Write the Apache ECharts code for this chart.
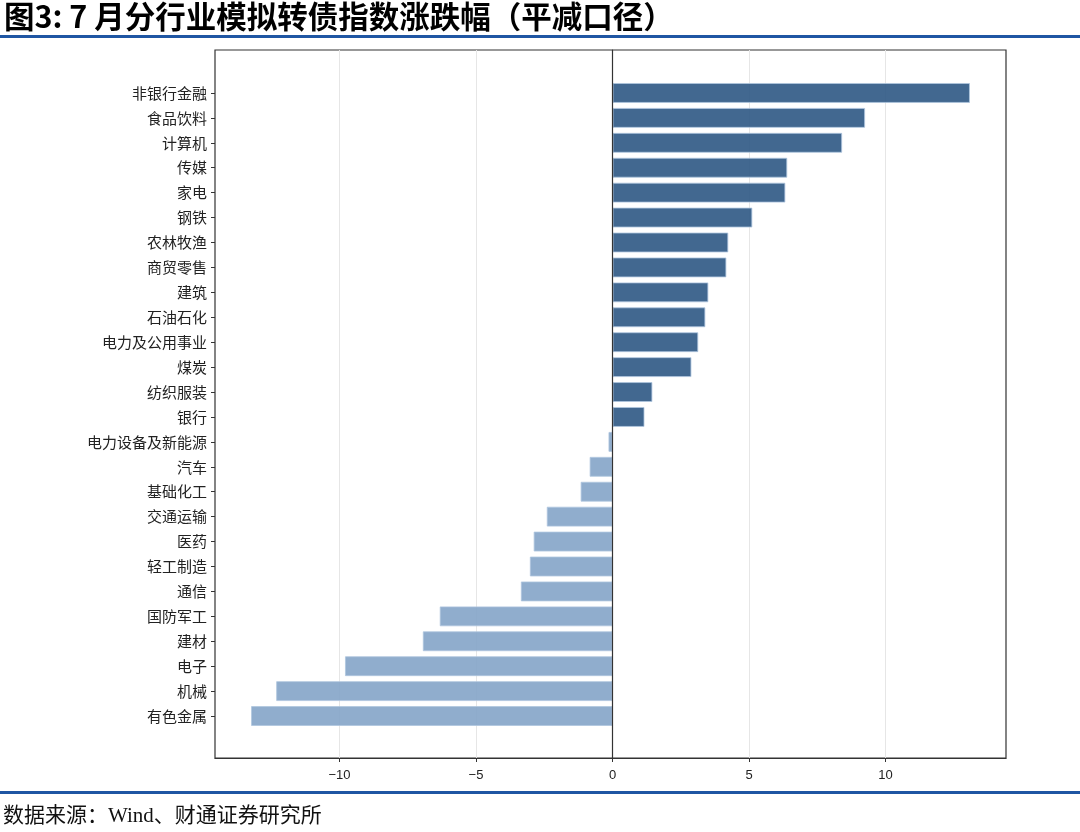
<!DOCTYPE html>
<html>
<head>
<meta charset="utf-8">
<script src="https://cdn.jsdelivr.net/npm/echarts@6/dist/echarts.min.js"></script>
<style>
html,body{margin:0;padding:0;background:#fff;}
#chart{width:1080px;height:832px;}
</style>
</head>
<body>
<div id="chart"></div>
<script>
var categories = ['非银行金融','食品饮料','计算机','传媒','家电','钢铁','农林牧渔','商贸零售','建筑','石油石化','电力及公用事业','煤炭','纺织服装','银行','电力设备及新能源','汽车','基础化工','交通运输','医药','轻工制造','通信','国防军工','建材','电子','机械','有色金属'];
var values = [13.09, 9.25, 8.41, 6.40, 6.33, 5.12, 4.24, 4.17, 3.51, 3.40, 3.14, 2.89, 1.46, 1.17, -0.15, -0.84, -1.17, -2.41, -2.89, -3.03, -3.36, -6.33, -6.95, -9.80, -12.32, -13.24];
var xTicks = [-10, -5, 0, 5, 10];
var titleText = '图3: 7 月分行业模拟转债指数涨跌幅（平减口径）';
var sourceText = '数据来源：Wind、财通证券研究所';

var xMin = -14.56, xMax = 14.41;
var posColor = 'rgba(45,88,132,0.9)';
var negColor = 'rgba(132,164,200,0.9)';

var chart = echarts.init(document.getElementById('chart'), null, {renderer: 'canvas'});
var option = {
  backgroundColor: '#fff',
  animation: false,
  graphic: [
    {type: 'text', left: 4, top: 1, style: {text: titleText, font: 'bold 30.5px "Noto Sans CJK SC", serif', fill: '#000'}},
    {type: 'rect', shape: {x: 0, y: 35, width: 1080, height: 3}, style: {fill: '#1f56a3'}},
    {type: 'rect', shape: {x: 0, y: 791, width: 1080, height: 3}, style: {fill: '#1f56a3'}},
    {type: 'text', left: 3, top: 806, style: {text: sourceText, font: '21px "Liberation Serif", "Noto Sans CJK SC", serif', fill: '#111'}}
  ],
  grid: [
    {left: 215, right: 74, top: 80.5, bottom: 103.5, containLabel: false},
    {left: 215, right: 74, top: 50, bottom: 74, show: true, borderColor: '#333', borderWidth: 1.2, backgroundColor: 'transparent'}
  ],
  xAxis: [
    {gridIndex: 0, type: 'value', min: xMin, max: xMax, show: false},
    {gridIndex: 1, type: 'value', min: xMin, max: xMax,
      axisLine: {show: true, onZero: false, lineStyle: {color: '#333', width: 1.2}},
      axisTick: {show: true, length: 4, customValues: xTicks, lineStyle: {color: '#333'}},
      axisLabel: {customValues: xTicks, color: '#222', fontSize: 13, fontFamily: '"Liberation Sans", Arial, sans-serif', margin: 11,
        formatter: function (v) { return String(v).replace('-', '\u2212'); }},
      splitLine: {show: true, lineStyle: {color: '#e6e6e6', width: 1}}
    }
  ],
  yAxis: [
    {gridIndex: 0, type: 'category', data: categories, inverse: true,
      axisLine: {show: false, onZero: false},
      axisTick: {show: true, alignWithLabel: true, length: 4, lineStyle: {color: '#333'}},
      axisLabel: {color: '#222', fontSize: 15, fontFamily: '"Noto Sans CJK SC", serif', margin: 8}
    },
    {gridIndex: 1, type: 'value', min: 0, max: 1, z: 5,
      axisLine: {show: true, onZero: true, lineStyle: {color: '#333', width: 1.2}},
      axisTick: {show: false}, axisLabel: {show: false}, splitLine: {show: false}
    }
  ],
  series: [
    {type: 'bar', xAxisIndex: 0, yAxisIndex: 0, barWidth: '80%', z: 2,
      data: values.map(function (v) {
        return {value: v, itemStyle: {color: v >= 0 ? posColor : negColor, borderColor: 'rgba(175,198,222,0.8)', borderWidth: 1}};
      })
    }
  ]
};
chart.setOption(option);
</script>
</body>
</html>
